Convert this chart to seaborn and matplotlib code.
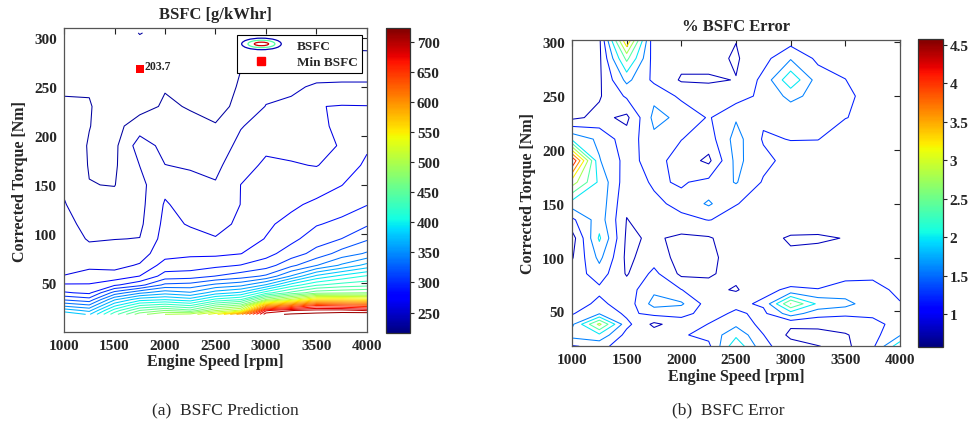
import numpy as np
import matplotlib
matplotlib.use("Agg")
import matplotlib.pyplot as plt
import seaborn as sns
from matplotlib.colors import Normalize
from matplotlib.lines import Line2D
from matplotlib.patches import Ellipse
from matplotlib.legend_handler import HandlerBase

# ---------------- data ----------------
speeds = [1000, 1250, 1500, 1750, 2000, 2250, 2500, 2750, 3000, 3250, 3500, 3750, 4000]

torque_pred = [18, 22, 27, 33, 40, 48, 57, 68, 80, 95, 110, 130, 150, 170, 190, 210, 230, 250, 270, 290, 305]
bsfc_pred = [
    [392, 378, 434, 479, 500, 505, 540, 600, 705, 712, 715, 718, 723],
    [373, 360.6, 416.6, 455, 470, 458, 498.2, 519, 677, 694, 700, 701, 692.9],
    [346.5, 337.6, 391.5, 425, 434, 424.4, 458.8, 475, 590, 620, 651, 645.2, 638.5],
    [318.6, 311.2, 363.3, 389, 395, 386.8, 414.4, 425, 487, 518, 556, 556, 550.4],
    [291.7, 287, 326, 347, 359, 351.8, 372.5, 382.8, 418.2, 444.4, 464, 467.2, 470],
    [276.8, 276.3, 287.5, 300, 323.4, 325.6, 338.4, 345.1, 366.3, 401.2, 423.1, 431.3, 435.1],
    [260.2, 265.8, 265, 275.2, 296, 297.9, 305.2, 312.5, 322.6, 351.2, 383.3, 399.3, 411.7],
    [257.9, 256.7, 256.1, 261.3, 281.4, 282.2, 286.3, 290.5, 297.7, 316.1, 334.4, 352.7, 370],
    [255.6, 250.2, 251, 253.7, 269, 272.3, 271.7, 274.6, 284.9, 297.3, 310.4, 326.3, 337],
    [252.7, 243.6, 244.7, 245.3, 266, 264.9, 260.7, 268.3, 275.6, 286, 297.8, 305.2, 317.9],
    [249.8, 240.2, 240.2, 242, 264, 258.8, 256.4, 262.1, 272.6, 279.4, 288.9, 293.8, 302.9],
    [246, 235.5, 234.8, 240.5, 261.5, 253.8, 251.4, 260.2, 269.1, 272.2, 278.2, 283.4, 289.4],
    [242.8, 230.3, 229.6, 241, 256, 248.8, 246.3, 260.1, 265.6, 266.6, 267.8, 274.7, 283.9],
    [239.9, 229.3, 228, 245.2, 245.2, 243.7, 241.1, 255.2, 262.1, 261, 259.5, 265.2, 278.3],
    [237, 229.2, 226.5, 252, 240.7, 238.6, 235.8, 249.4, 257.6, 256.4, 258, 260.5, 272.5],
    [234.1, 230.3, 225, 238, 236.4, 233.6, 230.5, 244, 251.6, 252.1, 258, 262, 266.3],
    [231.2, 230.8, 223.5, 224, 232.1, 229, 227.5, 232, 245.6, 247.8, 259.5, 260.8, 260.5],
    [228.9, 229, 222, 218, 229, 226, 225.5, 231, 239.6, 242.4, 247, 247.5, 247.5],
    [227.1, 227, 221.5, 217, 227.5, 224, 225.2, 229.8, 233.6, 234.9, 237, 237.3, 237.3],
    [225.3, 225.2, 221.5, 226, 226, 225.2, 226.5, 227, 228.2, 228.5, 228.5, 229, 228.6],
    [224, 224, 222, 230.5, 226, 226, 228, 226, 226, 227, 227, 227.5, 228],
]

torque_err = [17.5, 28, 38, 48, 57, 70, 85, 100, 118, 135, 150, 170, 190, 210, 230, 250, 265, 285, 302.4]
bsfc_err = [
    [1.15, 1.3, 1.0, 1.1, 0.95, 1.1, 2.3, 1.3, 0.95, 0.8, 0.7, 1.1, 2.3],
    [1.75, 1.9, 1.05, 1.0, 1.15, 1.3, 1.9, 1.2, 0.7, 0.65, 0.75, 1.05, 1.55],
    [1.5, 2.9, 1.3, 0.7, 1.0, 1.2, 1.5, 1.05, 0.85, 0.9, 1.0, 1.1, 1.3],
    [1.15, 1.55, 1.1, 1.3, 1.3, 1.05, 1.25, 1.1, 1.8, 1.35, 1.25, 1.25, 1.25],
    [0.95, 1.3, 0.95, 1.75, 1.65, 1.0, 1.1, 1.25, 2.8, 1.9, 1.75, 1.3, 1.2],
    [0.9, 1.1, 1.0, 1.5, 1.2, 0.9, 0.75, 1.1, 1.25, 1.2, 1.3, 1.25, 1.15],
    [0.95, 1.4, 0.75, 1.3, 0.7, 0.75, 0.9, 1.0, 0.95, 1.05, 1.1, 1.15, 1.1],
    [0.75, 1.7, 0.7, 1.0, 0.65, 0.7, 0.95, 0.8, 0.85, 0.9, 0.9, 0.95, 1.0],
    [0.6, 2.05, 0.72, 0.85, 0.7, 0.75, 1.0, 0.9, 0.75, 0.75, 0.8, 0.8, 0.95],
    [1.1, 1.8, 0.78, 0.95, 1.1, 1.2, 1.1, 1.05, 1.0, 0.95, 0.9, 0.95, 1.0],
    [1.8, 1.85, 0.85, 1.1, 1.3, 1.65, 1.2, 1.1, 1.05, 1.0, 0.95, 1.0, 1.05],
    [3.0, 1.9, 0.95, 1.25, 1.15, 1.3, 1.62, 1.15, 1.1, 1.05, 1.0, 1.05, 1.1],
    [4.4, 1.62, 1.05, 1.35, 1.0, 0.7, 1.7, 1.3, 1.05, 0.95, 0.9, 1.1, 0.9],
    [1.9, 1.5, 0.95, 1.5, 1.2, 1.0, 1.75, 1.15, 1.2, 1.2, 1.0, 1.15, 0.85],
    [0.7, 0.9, 0.7, 1.7, 1.5, 1.15, 1.55, 1.25, 1.3, 1.35, 1.2, 1.1, 0.95],
    [0.65, 0.75, 1.25, 1.5, 1.1, 0.95, 1.0, 1.3, 1.7, 1.45, 1.3, 1.0, 0.9],
    [0.62, 0.72, 1.7, 1.1, 0.75, 0.75, 0.8, 1.3, 2.3, 1.4, 1.2, 0.85, 0.85],
    [0.58, 0.7, 2.5, 1.0, 0.9, 0.9, 0.75, 1.05, 1.55, 1.1, 1.0, 0.9, 0.8],
    [0.62, 0.7, 3.6, 0.85, 1.0, 1.1, 0.8, 0.9, 1.0, 0.95, 0.85, 0.95, 0.85],
]

min_speed = [1750]
min_torque = [268]
min_value = 203.7

bsfc_ticks = [250, 300, 350, 400, 450, 500, 550, 600, 650, 700]
err_ticks = [1, 1.5, 2, 2.5, 3, 3.5, 4, 4.5]
err_tick_labels = ["1", "1.5", "2", "2.5", "3", "3.5", "4", "4.5"]
speed_ticks = [1000, 1500, 2000, 2500, 3000, 3500, 4000]
torque_ticks = [50, 100, 150, 200, 250, 300]

# ---------------- style ----------------
sns.set_theme(style="white")
plt.rcParams['font.family'] = ['Liberation Serif', 'DejaVu Serif']
plt.rcParams['font.weight'] = 'bold'
plt.rcParams['axes.labelweight'] = 'bold'
plt.rcParams['axes.titleweight'] = 'bold'

W, H = 969, 427
fig = plt.figure(figsize=(W / 100, H / 100), dpi=100)
ax1 = fig.add_axes([64 / W, 1 - 333 / H, 303 / W, 304 / H])
cax1 = fig.add_axes([386 / W, 1 - 334 / H, 24 / W, 305 / H])
ax2 = fig.add_axes([572 / W, 1 - 347.3 / H, 328 / W, 306.6 / H])
cax2 = fig.add_axes([918 / W, 1 - 347.7 / H, 24.5 / W, 307.7 / H])

cmap = plt.get_cmap('jet')

# left panel
X1, Y1 = np.meshgrid(speeds, torque_pred)
norm1 = Normalize(216, 723)
ax1.contour(X1, Y1, np.array(bsfc_pred), levels=np.arange(230, 711, 15),
            cmap=cmap, norm=norm1, linewidths=0.75)
sns.scatterplot(x=min_speed, y=min_torque, marker='s', color='red', s=32,
                edgecolor='none', ax=ax1, legend=False, zorder=5)
ax1.text(min_speed[0] + 45, min_torque[0] + 3, f"{min_value:.1f}", fontsize=8.5,
         fontweight='bold', ha='left', va='center')


class HandlerContour(HandlerBase):
    def create_artists(self, legend, orig_handle, xdescent, ydescent,
                       width, height, fontsize, trans):
        cx = width / 2 - xdescent
        cy = height / 2 - ydescent
        arts = []
        for fw, fh, c in [(1.0, 1.25, cmap(0.05)), (0.68, 0.8, cmap(0.45)),
                          (0.36, 0.38, cmap(0.93))]:
            e = Ellipse((cx, cy), width * fw, height * fh, fill=False,
                        edgecolor=c, lw=0.9, transform=trans)
            arts.append(e)
        return arts


h_cont = Line2D([], [], color='none')
h_min = Line2D([], [], marker='s', color='red', linestyle='none', markersize=6)
leg = ax1.legend([h_cont, h_min], ['BSFC', 'Min BSFC'],
                 handler_map={h_cont: HandlerContour()},
                 loc='upper right', bbox_to_anchor=(0.985, 0.978),
                 frameon=True, fancybox=False, edgecolor='black', framealpha=1,
                 prop=dict(size=9.5, weight='bold'), handlelength=3.0,
                 borderpad=0.35, labelspacing=0.35, handletextpad=1.2,
                 borderaxespad=0.0)
leg.get_frame().set_linewidth(0.8)

ax1.set_xlim(1000, 4000)
ax1.set_ylim(0, 310)
ax1.set_title("BSFC [g/kWhr]", fontsize=12, pad=7)

# right panel
X2, Y2 = np.meshgrid(speeds, torque_err)
norm2 = Normalize(0.575, 4.574)
ax2.contour(X2, Y2, np.array(bsfc_err),
            levels=[0.79, 1.19, 1.59, 1.99, 2.39, 2.79, 3.19, 3.59, 3.99, 4.39],
            cmap=cmap, norm=norm2, linewidths=0.75)
ax2.set_xlim(1000, 4000)
ax2.set_ylim(17.5, 302.4)
ax2.set_title("% BSFC Error", fontsize=12, pad=7)

for ax in (ax1, ax2):
    ax.set_xticks(speed_ticks)
    ax.set_yticks(torque_ticks)
    ax.tick_params(direction='in', top=True, right=True, length=4, width=0.8,
                   labelsize=11, pad=5, color='#222222')
    for lab in ax.get_xticklabels() + ax.get_yticklabels():
        lab.set_fontweight('bold')
    ax.set_xlabel("Engine Speed [rpm]", fontsize=11.5, labelpad=1)
    ax.set_ylabel("Corrected Torque [Nm]", fontsize=11.5, labelpad=4)
    for sp in ax.spines.values():
        sp.set_color('#555555')
        sp.set_linewidth(0.9)
    ax.set_facecolor('white')

# colorbars
cb1 = fig.colorbar(plt.cm.ScalarMappable(norm=norm1, cmap=cmap), cax=cax1)
cb1.set_ticks(bsfc_ticks)
cb2 = fig.colorbar(plt.cm.ScalarMappable(norm=norm2, cmap=cmap), cax=cax2)
cb2.set_ticks(err_ticks)
cb2.set_ticklabels(err_tick_labels)
for cb in (cb1, cb2):
    cb.ax.tick_params(direction='out', length=3, width=0.8, labelsize=11, pad=2)
    for lab in cb.ax.get_yticklabels():
        lab.set_fontweight('bold')
    cb.outline.set_linewidth(0.9)
    cb.outline.set_edgecolor('#333333')

fig.text(225 / W, 1 - 410 / H, "(a)  BSFC Prediction", ha='center', va='center',
         fontsize=12.5, fontweight='normal')
fig.text(728 / W, 1 - 410 / H, "(b)  BSFC Error", ha='center', va='center',
         fontsize=12.5, fontweight='normal')

fig.savefig("out.png", dpi=100, facecolor='white')
